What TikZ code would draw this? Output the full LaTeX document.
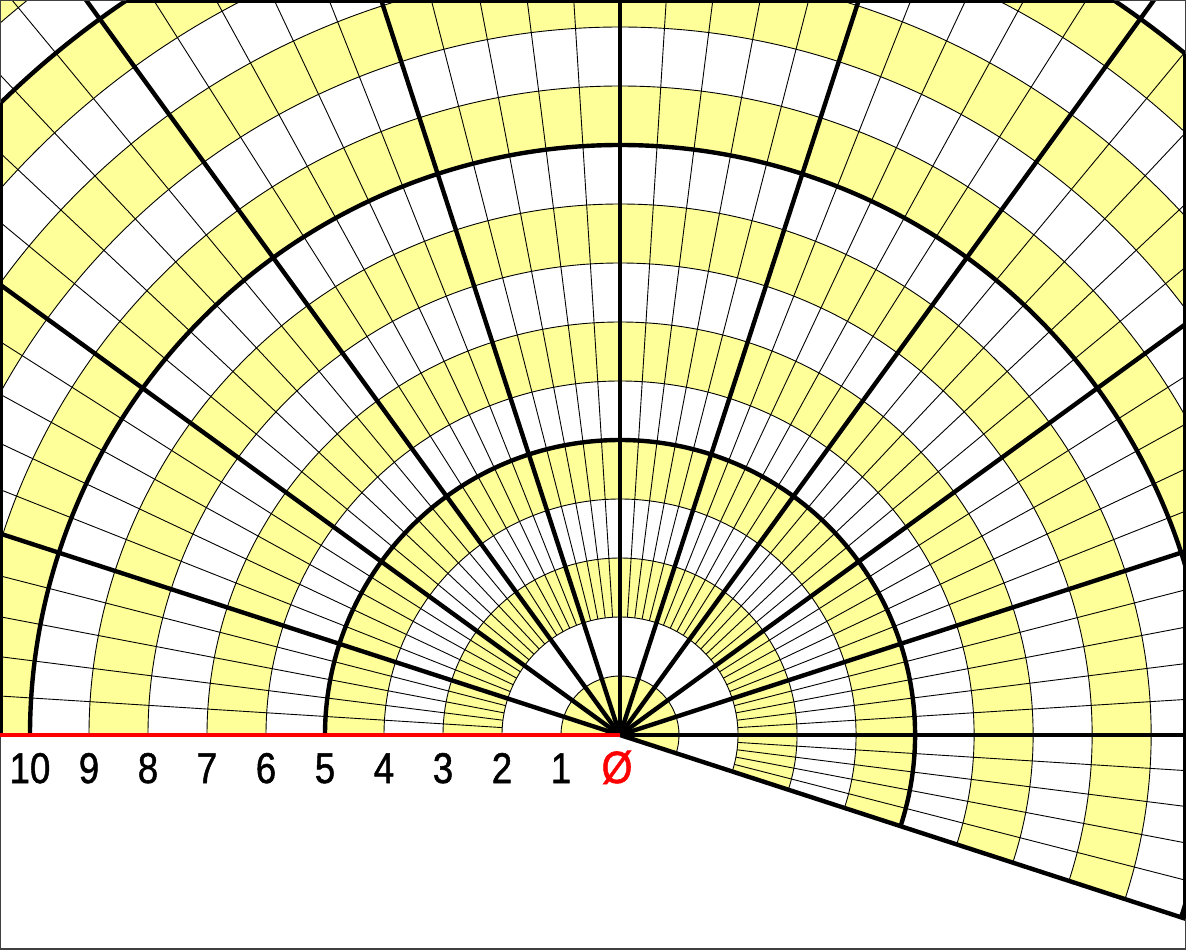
\documentclass[tikz,border=0pt]{standalone}
\usepackage{fontspec}
\setmainfont{Liberation Sans}
\newfontfamily\lblfont[FakeBold=1.3]{Liberation Sans}
\definecolor{cellyellow}{RGB}{255,255,153}
\begin{document}
\begin{tikzpicture}[x=29.5pt,y=29.5pt,
  thinline/.style={line width=0.45pt, black},
  thickline/.style={line width=2.2pt, black},
  lbl/.style={anchor=base, inner sep=0pt, font=\lblfont\fontsize{21.5}{24}\selectfont}]
\def\Lx{-10.5085}
\def\Rx{9.5932}
\def\Ty{12.4576}
\def\By{-3.6271}
\useasboundingbox (\Lx,\By) rectangle (\Rx,\Ty);
\coordinate (O) at (0,0);
\coordinate (redstart) at (\Lx,0);
\coordinate (bl) at (\Lx,\By);
\coordinate (tr) at (\Rx,\Ty);
\begin{scope}
  \clip (bl) rectangle (tr);
  % yellow rings
  \fill[cellyellow] (O) -- (-18:1) arc[start angle=-18,end angle=180,radius=1] -- cycle;
  \foreach \k in {2,4,...,16} {
    \pgfmathsetmacro\kk{\k+1}
    \fill[cellyellow] (-18:\k) arc[start angle=-18,end angle=180,radius=\k]
      -- (180:\kk) arc[start angle=180,end angle=-18,radius=\kk] -- cycle;
  }
  % thin radials
  \foreach \i in {0,...,55} {
    \pgfmathsetmacro\a{-18+3.6*\i}
    \draw[thinline] (\a:2) -- (\a:17);
  }
  % thin arcs
  \foreach \r in {1,...,17} {
    \draw[thinline] (-18:\r) arc[start angle=-18,end angle=180,radius=\r];
  }
  % thick radials
  \foreach \a in {-18,0,...,180} {
    \draw[thickline] (O) -- (\a:17);
  }
  % thick arcs
  \foreach \r in {5,10,15} {
    \draw[thickline] (-18:\r) arc[start angle=-18,end angle=180,radius=\r];
  }
\end{scope}
% thin frame
\draw[line width=1.2pt, black!75] (bl) rectangle (tr);
% thick frame where the grid is
\begin{scope}
  \clip (O) -- (-18:15) arc[start angle=-18,end angle=180,radius=15] -- cycle;
  \draw[line width=3pt, black] (bl) rectangle (tr);
\end{scope}
% red axis
\draw[red, line width=2.2pt] (redstart) -- (O);
% labels
\foreach \k in {1,...,10} {
  \node[lbl] (n\k) at (-\k,-0.8136) {\scalebox{0.85}[1]{\k}};
}
\node[lbl, text=red] (zero) at (-0.05,-0.8136) {\scalebox{0.92}[1.05]{Ø}};
\end{tikzpicture}
\end{document}
